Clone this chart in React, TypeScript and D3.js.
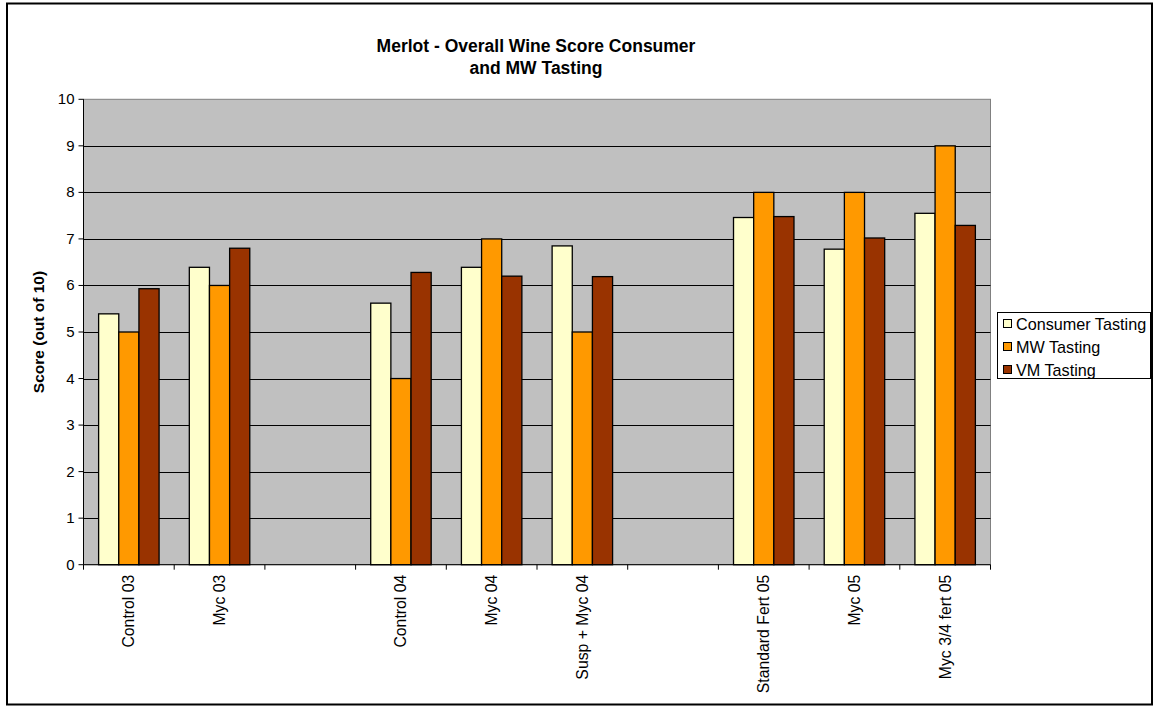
import React from "react";
import * as d3 from "d3";

const categories = ["Control 03", "Myc 03", "_gap1", "Control 04", "Myc 04", "Susp + Myc 04", "_gap2", "Standard Fert 05", "Myc 05", "Myc 3/4 fert 05"];
const seriesNames = ["Consumer Tasting", "MW Tasting", "VM Tasting"];
const seriesColors = ["#FFFFCC", "#FF9900", "#993300"];
const consumer = [5.39, 6.39, null, 5.62, 6.39, 6.85, null, 7.46, 6.78, 7.55];
const mw = [5, 6, null, 4, 7, 5, null, 8, 8, 9];
const vm = [5.93, 6.8, null, 6.28, 6.2, 6.19, null, 7.48, 7.02, 7.29];
const yTicks = [0, 1, 2, 3, 4, 5, 6, 7, 8, 9, 10];
const titleLines = ["Merlot - Overall Wine Score Consumer", "and MW Tasting"];

export default function App() {
  const W = 1154, H = 709;
  const left = 83.5, right = 990.5, top = 99.3, bottom = 564.7;
  const x = d3.scaleBand<string>().domain(categories).range([left, right]).paddingInner(0).paddingOuter(0);
  const y = d3.scaleLinear().domain([0, 10]).range([bottom, top]);
  const bw = x.bandwidth();
  const barW = bw / 4.5;
  const inner = d3.scaleBand<number>().domain([0, 1, 2]).range([bw * 0.75 / 4.5, bw - bw * 0.75 / 4.5]).padding(0);
  const series = [consumer, mw, vm];
  const font = "'Liberation Sans', Arial, sans-serif";
  return (
    <svg width={W} height={H} style={{ position: "absolute", left: 0, top: 0 }} fontFamily={font}>
      <rect x={0} y={0} width={W} height={H} fill="#fff" />
      <rect x={7} y={3.5} width={1145} height={701} fill="#fff" stroke="#000" strokeWidth={2} />
      {titleLines.map((t, i) => (
        <text key={i} x={536} y={52 + i * 22} textAnchor="middle" fontWeight="bold" fontSize={17.5}>{t}</text>
      ))}
      <rect x={left} y={top} width={right - left} height={bottom - top} fill="#C0C0C0" stroke="#808080" strokeWidth={1} />
      {yTicks.filter(t => t > 0 && t < 10).map(t => (
        <line key={t} x1={left} x2={right} y1={Math.round(y(t)) + 0.5} y2={Math.round(y(t)) + 0.5} stroke="#000" strokeWidth={1} />
      ))}
      {series.map((vals, si) =>
        vals.map((v, ci) => v == null ? null : (
          <rect key={si + "-" + ci}
            x={(x(categories[ci]) as number) + (inner(si) as number)}
            y={y(v)} width={barW} height={bottom - y(v)}
            fill={seriesColors[si]} stroke="#000" strokeWidth={1.3} />
        ))
      )}
      <line x1={left} x2={left} y1={top} y2={bottom} stroke="#000" />
      <line x1={left} x2={right} y1={bottom} y2={bottom} stroke="#000" />
      {yTicks.map(t => (
        <g key={t}>
          <line x1={left - 5} x2={left} y1={y(t)} y2={y(t)} stroke="#000" />
          <text x={left - 9} y={y(t) + 5} textAnchor="end" fontSize={15}>{t}</text>
        </g>
      ))}
      {categories.map((c, i) => (
        <line key={"t" + i} x1={left + i * bw} x2={left + i * bw} y1={bottom} y2={bottom + 5} stroke="#000" />
      ))}
      <line x1={right} x2={right} y1={bottom} y2={bottom + 5} stroke="#000" />
      {categories.map(c => c.startsWith("_") ? null : (
        <text key={c} transform={`translate(${(x(c) as number) + bw / 2 + 5.5},${bottom + 10}) rotate(-90)`} textAnchor="end" fontSize={15.8}>{c}</text>
      ))}
      <text transform={`translate(44,${(top + bottom) / 2}) rotate(-90)`} textAnchor="middle" fontWeight="bold" fontSize={15.5}>Score (out of 10)</text>
      <rect x={997.5} y={312.5} width={153} height={66} fill="#fff" stroke="#000" strokeWidth={1} />
      {seriesNames.map((s, i) => (
        <g key={s}>
          <rect x={1003.5} y={319.5 + i * 23} width={8} height={8} fill={seriesColors[i]} stroke="#000" />
          <text x={1016} y={329.5 + i * 23} fontSize={16.2}>{s}</text>
        </g>
      ))}
    </svg>
  );
}
